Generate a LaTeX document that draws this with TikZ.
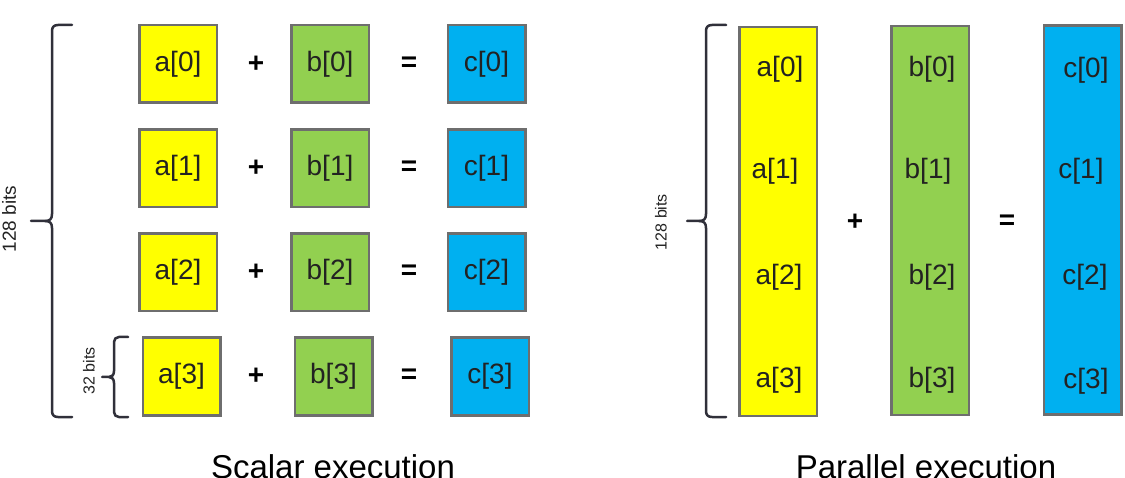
\documentclass[tikz,border=0pt]{standalone}
\usepackage{fontspec}
\setmainfont{Liberation Sans}
\definecolor{boxgray}{HTML}{6E6E6E}
\definecolor{yel}{HTML}{FFFF00}
\definecolor{grn}{HTML}{92D050}
\definecolor{blu}{HTML}{00B0F0}
\definecolor{txt}{HTML}{222222}
\definecolor{brc}{HTML}{30303A}
\begin{document}
\begin{tikzpicture}[x=1pt,y=-1pt,
  cell/.style={draw=boxgray, line width=2.5pt, minimum width=77.5pt, minimum height=77.5pt, inner sep=0pt, text=txt, font=\fontsize{28}{32}\selectfont},
  bar/.style={draw=boxgray, line width=2.5pt, minimum width=77.5pt, minimum height=388.5pt, inner sep=0pt},
  lbl/.style={text=txt, inner sep=0pt, font=\fontsize{28}{32}\selectfont},
  op/.style={text=black, inner sep=0pt, font=\fontsize{28}{32}\selectfont\bfseries},
  brace/.style={draw=brc, line width=2.5pt, line cap=round, line join=round},
  bits/.style={text=txt, inner sep=0pt, rotate=90},
  title/.style={text=black, inner sep=0pt, anchor=base, font=\fontsize{33}{38}\selectfont}]
\useasboundingbox (0,0) rectangle (1125,478);

% ---------- Scalar execution ----------
\foreach \i/\y/\dx in {0/64/0, 1/168.5/0, 2/272.5/0, 3/376.5/3.5} {
  \node[cell, fill=yel] (a\i) at (178+\dx,\y) {a[\i]};
  \node[op] (p\i) at (256,\y) {+};
  \node[cell, fill=grn] (b\i) at (330+\dx,\y) {b[\i]};
  \node[op] (e\i) at (409,\y) {=};
  \node[cell, fill=blu] (c\i) at (486.5+\dx,\y) {c[\i]};
}

% big brace (left)
\draw[brace] (72,25) -- (58,25) .. controls (54,25) and (52,27) .. (52,31)
  -- (52,214) .. controls (52,219) and (50,221) .. (45,221) -- (31,221);
\draw[brace] (45,221) .. controls (50,221) and (52,223) .. (52,228)
  -- (52,411) .. controls (52,415) and (54,417) .. (58,417) -- (72,417);
\node[bits, font=\fontsize{19}{21}\selectfont] (l128) at (9,219) {128 bits};

% small brace
\draw[brace] (128,337) -- (119,337) .. controls (116,337) and (114,339) .. (114,342)
  -- (114,371) .. controls (114,375) and (112,377) .. (109,377) -- (102,377);
\draw[brace] (109,377) .. controls (112,377) and (114,379) .. (114,383)
  -- (114,412) .. controls (114,415) and (116,417) .. (119,417) -- (128,417);
\node[bits, font=\fontsize{16}{18}\selectfont] (l32) at (89,371) {32 bits};

\node[title] (st) at (333,478) {Scalar execution};

% ---------- Parallel execution ----------
\node[bar, fill=yel] (A) at (778,221.5) {};
\node[bar, fill=grn] (B) at (930,220.5) {};
\node[bar, fill=blu] (C) at (1082.5,220) {};

\node[lbl] (ta0) at (780,69) {a[0]};
\node[lbl] (ta1) at (775,171) {a[1]};
\node[lbl] (ta2) at (779,277) {a[2]};
\node[lbl] (ta3) at (779,380) {a[3]};
\node[lbl] (tb0) at (932,69) {b[0]};
\node[lbl] (tb1) at (928,171) {b[1]};
\node[lbl] (tb2) at (932,277) {b[2]};
\node[lbl] (tb3) at (932,380) {b[3]};
\node[lbl] (tc0) at (1086,70) {c[0]};
\node[lbl] (tc1) at (1081,171) {c[1]};
\node[lbl] (tc2) at (1085,277) {c[2]};
\node[lbl] (tc3) at (1086,381) {c[3]};

\node[op] (P) at (855,222) {+};
\node[op] (E) at (1007,222) {=};

% right brace
\draw[brace] (726,25) -- (712,25) .. controls (708,25) and (706,27) .. (706,31)
  -- (706,214) .. controls (706,219) and (704,221) .. (699,221) -- (687,221);
\draw[brace] (699,221) .. controls (704,221) and (706,223) .. (706,228)
  -- (706,411) .. controls (706,415) and (708,417) .. (712,417) -- (726,417);
\node[bits, font=\fontsize{16}{18}\selectfont] (r128) at (661,222) {128 bits};

\node[title] (pt) at (926,478) {Parallel execution};
\end{tikzpicture}
\end{document}
